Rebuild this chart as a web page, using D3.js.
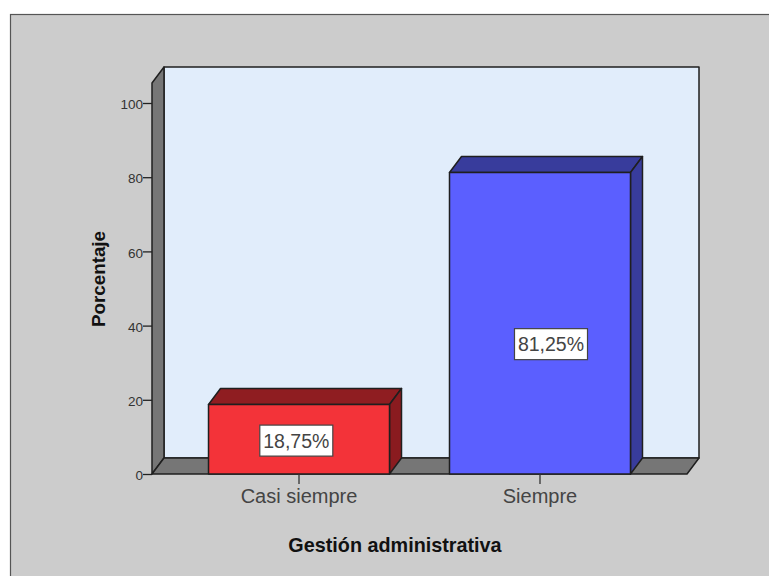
<!DOCTYPE html>
<html><head><meta charset="utf-8">
<script src="https://cdn.jsdelivr.net/npm/d3@7"></script>
<style>
html,body{margin:0;padding:0;background:#fff;overflow:hidden}
svg{display:block}
text{font-family:"Liberation Sans",Arial,sans-serif}
</style></head><body>
<svg id="c" width="769" height="576"></svg>
<script>
const categories = ["Casi siempre", "Siempre"];
const percentages = [18.75, 81.25];
const valueLabels = ["18,75%", "81,25%"];
const yTicks = [0, 20, 40, 60, 80, 100];
const yTitle = "Porcentaje";
const xTitle = "Gestión administrativa";

const W = 769, H = 576;
const pLeft = 152, pRight = 687, pBottom = 474, pTop = 83, dx = 12, dy = -16;
const stroke = "#1f1f1f", sw = 1.5;
const frontColors = ["#f33339", "#5b5fff"];
const topColors = ["#8f1d21", "#383c9c"];
const sideColors = ["#8a1b1f", "#383c9c"];
const wall = "#e1edfb", grey = "#767676";

const svg = d3.select("#c");
const y = d3.scaleLinear().domain([0, (pBottom - pTop) / 3.71]).range([pBottom, pTop]);
const x = d3.scaleBand().domain(categories).range([pLeft, pRight]).paddingInner(0.249).paddingOuter(0.2345);

const poly = (pts, fill) => svg.append("polygon")
  .attr("points", pts.map(p => p.join(",")).join(" "))
  .attr("fill", fill).attr("stroke", stroke).attr("stroke-width", sw).attr("stroke-linejoin", "round");

// panel
svg.append("rect").attr("x", 10.5).attr("y", 14.5).attr("width", W + 10).attr("height", H + 10)
  .attr("fill", "#cccccc").attr("stroke", "#555").attr("stroke-width", 1.2);

// 3D box
poly([[pLeft + dx, pTop + dy], [pRight + dx, pTop + dy], [pRight + dx, pBottom + dy], [pLeft + dx, pBottom + dy]], wall);
poly([[pLeft, pTop], [pLeft + dx, pTop + dy], [pLeft + dx, pBottom + dy], [pLeft, pBottom]], grey);
poly([[pLeft, pBottom], [pLeft + dx, pBottom + dy], [pRight + dx, pBottom + dy], [pRight, pBottom]], grey);

// bars
categories.forEach((c, i) => {
  const x0 = x(c), x1 = x0 + x.bandwidth(), yt = y(percentages[i]), yb = y(0);
  poly([[x0, yt], [x0 + dx, yt + dy], [x1 + dx, yt + dy], [x1, yt]], topColors[i]);
  poly([[x1, yt], [x1 + dx, yt + dy], [x1 + dx, yb + dy], [x1, yb]], sideColors[i]);
  poly([[x0, yt], [x1, yt], [x1, yb], [x0, yb]], frontColors[i]);
});

// axes
const yAxis = svg.append("g").attr("transform", `translate(${pLeft},0)`)
  .call(d3.axisLeft(y).tickValues(yTicks).tickSize(9).tickPadding(0).tickFormat(d3.format("d")));
yAxis.select(".domain").remove();
yAxis.selectAll("line").attr("stroke", "#222").attr("stroke-width", 1.3);
yAxis.selectAll("text").attr("font-size", 13.5).attr("dy", "0.42em").attr("fill", "#333").style("font-family", '"Liberation Sans"');

const xAxis = svg.append("g").attr("transform", `translate(0,${pBottom})`)
  .call(d3.axisBottom(x).tickSize(10).tickPadding(5));
xAxis.select(".domain").remove();
xAxis.selectAll("line").attr("stroke", "#333").attr("stroke-width", 1.3);
xAxis.selectAll("text").attr("font-size", 20).attr("fill", "#444").style("font-family", '"Liberation Sans"');

// value labels
const labelAt = [9.0, 35.0];
const labelShift = [-2.7, 11];
categories.forEach((c, i) => {
  const cx = x(c) + x.bandwidth() / 2 + labelShift[i], cy = y(labelAt[i]);
  svg.append("rect").attr("x", cx - 36.5).attr("y", cy - 15.5).attr("width", 73).attr("height", 31)
    .attr("fill", "#fff").attr("stroke", "#444").attr("stroke-width", 1.2);
  svg.append("text").attr("x", cx).attr("y", cy + 7).attr("text-anchor", "middle")
    .attr("font-size", 19.5).attr("fill", "#444").text(valueLabels[i]);
});

// titles
svg.append("text").attr("x", 395).attr("y", 552).attr("text-anchor", "middle")
  .attr("font-size", 19.8).attr("font-weight", "bold").attr("fill", "#111").text(xTitle);
svg.append("text").attr("transform", "translate(104.5,279) rotate(-90)").attr("text-anchor", "middle")
  .attr("font-size", 18.8).attr("font-weight", "bold").attr("fill", "#111").text(yTitle);
</script>
</body></html>
